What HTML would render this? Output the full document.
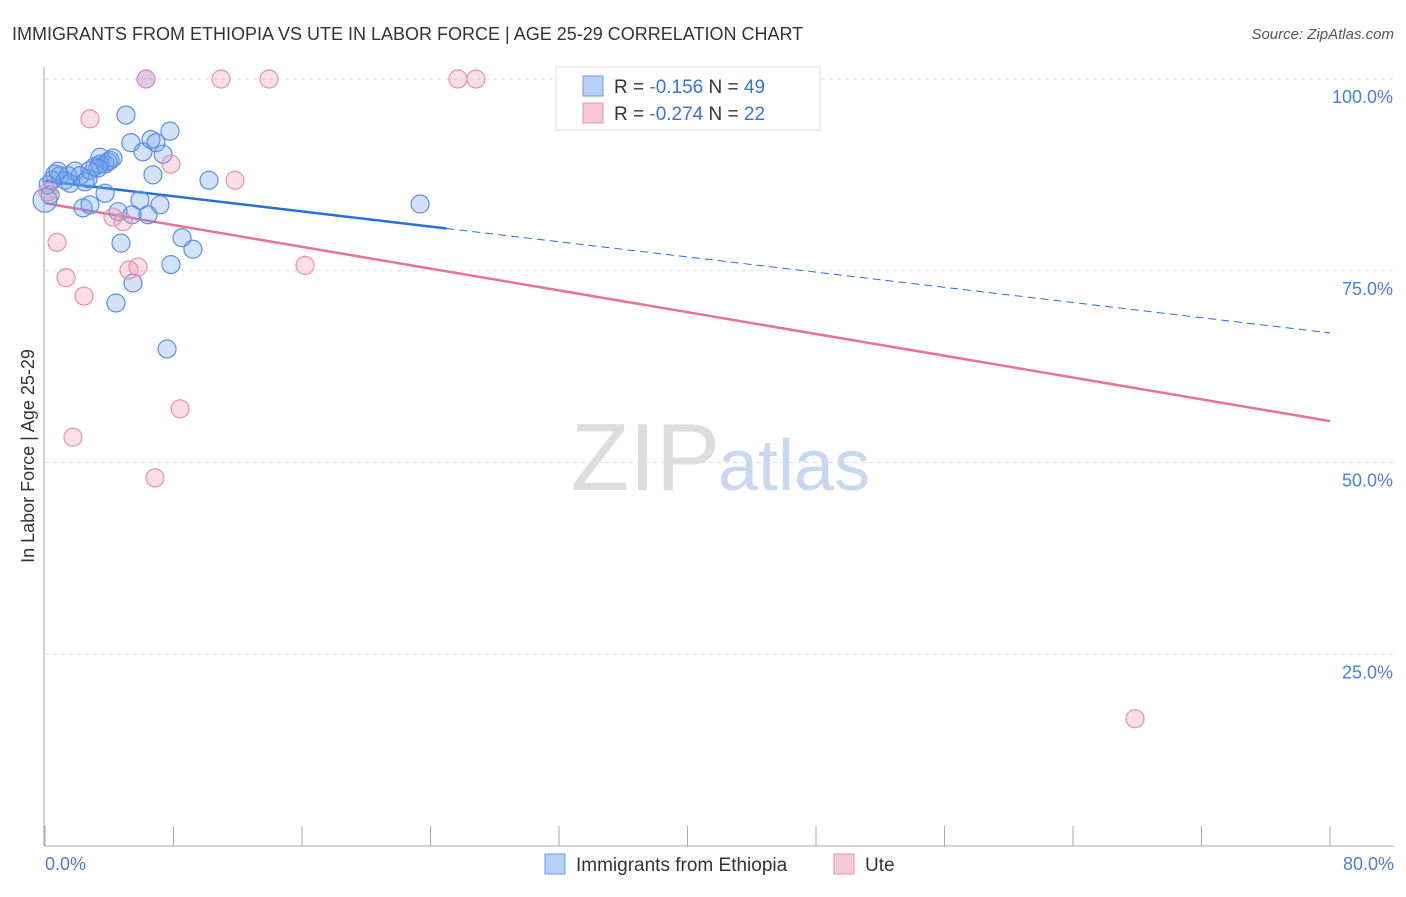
<!DOCTYPE html>
<html><head><meta charset="utf-8"><style>
body{margin:0;background:#fff;font-family:"Liberation Sans",sans-serif;}
svg text{font-family:"Liberation Sans",sans-serif;}
</style></head><body>
<svg id="c" width="1406" height="892" xmlns="http://www.w3.org/2000/svg">
<text x="12" y="40" font-size="18" fill="#333">IMMIGRANTS FROM ETHIOPIA VS UTE IN LABOR FORCE | AGE 25-29 CORRELATION CHART</text>
<text x="1394" y="39" font-size="15" fill="#555" text-anchor="end" font-style="italic">Source: ZipAtlas.com</text>
<text x="720" y="490" font-size="96" fill="#ddd" text-anchor="end" font-family="Liberation Serif">ZIP</text>
<text x="718" y="490" font-size="72" fill="#c8d8f0">atlas</text>
<g id="grid"></g><g id="axes"></g><g id="trend"></g><g id="pts"></g>
<text transform="translate(34,456) rotate(-90)" font-size="18" fill="#333" text-anchor="middle">In Labor Force | Age 25-29</text>
<text x="45" y="870" font-size="18" fill="#4a7fd6">0.0%</text>
<text x="1394" y="870" font-size="18" fill="#4a7fd6" text-anchor="end">80.0%</text>
<g>
<rect x="556" y="67" width="264" height="63" fill="#fff" stroke="#ddd"/>
<rect x="583" y="76" width="20" height="20" fill="#b8d0f5" stroke="#6b9be0"/>
<text x="614" y="93" font-size="19" fill="#333">R = <tspan fill="#3b73d0">-0.156</tspan>   N = <tspan fill="#3b73d0">49</tspan></text>
<rect x="583" y="103" width="20" height="20" fill="#f8c8d8" stroke="#e890ab"/>
<text x="614" y="120" font-size="19" fill="#333">R = <tspan fill="#3b73d0">-0.274</tspan>   N = <tspan fill="#3b73d0">22</tspan></text>
</g>
<g>
<rect x="545" y="854" width="20" height="20" fill="#b8d0f5" stroke="#6b9be0"/>
<text x="576" y="871" font-size="19" fill="#333">Immigrants from Ethiopia</text>
<rect x="834" y="854" width="20" height="20" fill="#f8c8d8" stroke="#e890ab"/>
<text x="865" y="871" font-size="19" fill="#333">Ute</text>
</g>
</svg>
<script>
const yTicks=[100,75,50,25];
const yTickLabels=["100.0%","75.0%","50.0%","25.0%"];
const xTicks=[0,8,16,24,32,40,48,56,64,72,80];
const blueX=[0.62,0.93,1.25,1.56,1.87,2.18,2.49,2.80,3.11,3.42,3.74,4.05,0.19,0.31,0.44,5.04,5.35,6.10,6.60,6.91,7.78,7.35,6.72,10.21,3.74,5.91,7.16,2.37,2.80,4.55,5.42,6.41,4.73,8.53,9.21,7.84,5.48,4.42,7.60,23.35,6.29,0,3.42,3.92,4.23,1.43,0.81,2.68,3.30];
const blueY=[87.6,87.4,86.8,86.4,88.0,87.4,86.6,88.1,88.6,89.8,88.9,89.4,86.2,84.9,86.8,95.3,91.7,90.5,92.1,91.7,93.2,90.2,87.5,86.8,85.1,84.2,83.6,83.2,83.6,82.7,82.3,82.3,78.6,79.3,77.8,75.8,73.4,70.8,64.8,83.7,100,84.2,88.9,89.2,89.7,87.4,88.0,87.0,88.4];
const pinkX=[6.29,10.96,13.95,25.71,26.83,44.14,2.80,7.84,11.83,0.19,4.23,4.86,0.75,5.23,5.79,16.19,1.31,2.43,8.41,1.74,6.85,67.86];
const pinkY=[100,100,100,100,100,100,94.8,88.9,86.8,85.3,82.0,81.4,78.7,75.1,75.5,75.7,74.1,71.7,57.0,53.3,48.0,16.6];
const blueTrend=[86.7,66.9]; const blueSolidEnd=25.0;
const pinkTrend=[83.8,55.4];
const NS="http://www.w3.org/2000/svg";
const X=v=>45+v/80*1285, Y=v=>846-v/100*767;
function mk(p,t,a){const e=document.createElementNS(NS,t);for(const k in a)e.setAttribute(k,a[k]);document.getElementById(p).appendChild(e);return e;}
yTicks.forEach((t,i)=>{
 const l=mk('grid','line',{x1:45,x2:1394,y1:Y(t),y2:Y(t),stroke:'#ddd','stroke-dasharray':'4,4'});
 
 
 const tx=mk('grid','text',{x:1393,y:Y(t)+24,'font-size':18,fill:'#4a7fd6','text-anchor':'end'});
 tx.textContent=yTickLabels[i];
 
 
});
const ax=mk('axes','line',{x1:44,x2:44,y1:67,y2:846,stroke:'#aaa'});


const bx=mk('axes','line',{x1:44,x2:1394,y1:846,y2:846,stroke:'#aaa'});


xTicks.forEach(t=>{const l=mk('axes','line',{x1:X(t),x2:X(t),y1:826,y2:846,stroke:'#aaa'});
 
 });
const by=x=>blueTrend[0]+(blueTrend[1]-blueTrend[0])*x/80;
const py=x=>pinkTrend[0]+(pinkTrend[1]-pinkTrend[0])*x/80;
let t=mk('trend','line',{x1:X(0),y1:Y(by(0)),x2:X(blueSolidEnd),y2:Y(by(blueSolidEnd)),stroke:'#2a6fd6','stroke-width':2.5});


t=mk('trend','line',{x1:X(blueSolidEnd),y1:Y(by(blueSolidEnd)),x2:X(80),y2:Y(by(80)),stroke:'#2a6fd6','stroke-width':1,'stroke-dasharray':'8,5'});


t=mk('trend','line',{x1:X(0),y1:Y(py(0)),x2:X(80),y2:Y(py(80)),stroke:'#e8709a','stroke-width':2.5});


blueX.forEach((x,i)=>{const c=mk('pts','circle',{cx:X(x),cy:Y(blueY[i]),r:x===0?12:9,fill:'rgba(110,160,235,0.3)',stroke:'#5b8fe0','stroke-width':1.2});
 
 });
pinkX.forEach((x,i)=>{const c=mk('pts','circle',{cx:X(x),cy:Y(pinkY[i]),r:9,fill:'rgba(240,150,180,0.3)',stroke:'#e890ab','stroke-width':1.2});
 
 });
</script>
</body></html>
